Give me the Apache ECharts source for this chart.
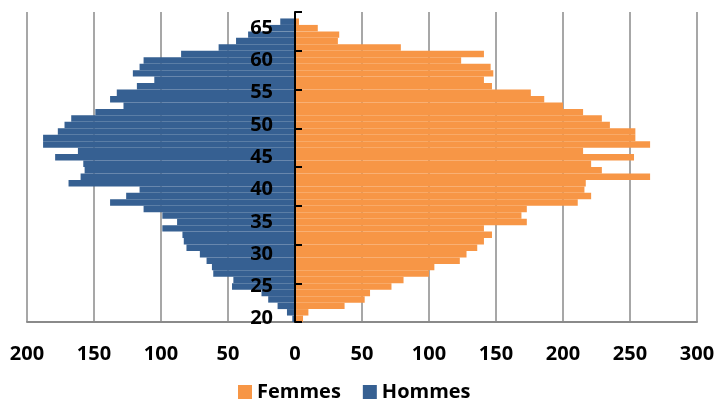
<!DOCTYPE html>
<html>
<head>
<meta charset="utf-8">
<script src="https://cdn.jsdelivr.net/npm/echarts@6/dist/echarts.min.js"></script>
<style>
  html, body { margin: 0; padding: 0; background: #fff; }
  #chart { width: 717px; height: 399px; }
</style>
</head>
<body>
<div id="chart"></div>
<script>
// Age classes, youngest first (bottom of the pyramid)
const ages = [20, 21, 22, 23, 24, 25, 26, 27, 28, 29,
              30, 31, 32, 33, 34, 35, 36, 37, 38, 39,
              40, 41, 42, 43, 44, 45, 46, 47, 48, 49,
              50, 51, 52, 53, 54, 55, 56, 57, 58, 59,
              60, 61, 62, 63, 64, 65, 66, 67];

// Headcount of women per age
const femmes = [6, 10, 37, 52, 56, 72, 81, 100, 104, 123,
                128, 136, 141, 147, 141, 173, 169, 173, 211, 221,
                216, 217, 265, 229, 221, 253, 215, 265, 254, 254,
                235, 229, 215, 200, 186, 176, 147, 141, 148, 146,
                124, 141, 79, 32, 33, 17, 3, 0];

// Headcount of men per age
const hommes = [2, 6, 13, 20, 25, 47, 46, 61, 62, 66,
                71, 81, 83, 84, 99, 88, 99, 113, 138, 126,
                116, 169, 160, 157, 158, 179, 162, 188, 188, 177,
                172, 167, 149, 128, 138, 133, 118, 105, 121, 116,
                113, 85, 57, 44, 35, 19, 11, 0];

// Horizontal scale
const xMin = -200;
const xMax = 300;
const xStep = 50;

const FONT = 'Open Sans';
const GRID_LEFT = 27;
const GRID_RIGHT = 20;
const CHART_W = 717;

// Pixel distance from the grid's left edge to the value 0 on the x axis,
// used to place the age axis on the zero line.
const plotW = CHART_W - GRID_LEFT - GRID_RIGHT;
const zeroOffset = plotW * (0 - xMin) / (xMax - xMin);

const chart = echarts.init(document.getElementById('chart'), null, { renderer: 'canvas' });

chart.setOption({
  animation: false,
  backgroundColor: '#ffffff',
  textStyle: { fontFamily: FONT },
  legend: {
    data: ['Femmes', 'Hommes'],
    top: 377,
    left: 233,
    itemWidth: 14,
    itemHeight: 14,
    itemGap: 22,
    icon: 'rect',
    textStyle: { fontFamily: FONT, fontWeight: 'bold', fontSize: 20, color: '#000' }
  },
  grid: { left: GRID_LEFT, right: GRID_RIGHT, top: 12, bottom: 77, containLabel: false, outerBoundsMode: 'none' },
  xAxis: {
    type: 'value',
    min: xMin,
    max: xMax,
    interval: xStep,
    axisLine: { show: true, lineStyle: { color: '#8a8a8a', width: 2 } },
    axisTick: { show: false },
    splitLine: { show: true, lineStyle: { color: '#8a8a8a', width: 1.5 } },
    axisLabel: {
      margin: 22,
      color: '#000',
      fontFamily: FONT,
      fontWeight: 'bold',
      fontSize: 20,
      formatter: v => String(Math.abs(v))
    }
  },
  yAxis: {
    type: 'category',
    data: ages,
    position: 'left',
    offset: -zeroOffset,
    z: 10,
    axisLine: { show: true, onZero: false, lineStyle: { color: '#000', width: 2 } },
    axisTick: { show: true, inside: true, length: 7, interval: 5, lineStyle: { color: '#000', width: 2 } },
    splitLine: { show: false },
    axisLabel: {
      interval: 4,
      margin: 22,
      color: '#000',
      fontFamily: FONT,
      fontWeight: 'bold',
      fontSize: 20
    }
  },
  series: [
    {
      name: 'Femmes',
      type: 'bar',
      stack: 'pyramide',
      barCategoryGap: 0,
      itemStyle: { color: '#F79646' },
      data: femmes
    },
    {
      name: 'Hommes',
      type: 'bar',
      stack: 'pyramide',
      barCategoryGap: 0,
      itemStyle: { color: '#366092' },
      data: hommes.map(v => -v)
    }
  ]
});
</script>
</body>
</html>
